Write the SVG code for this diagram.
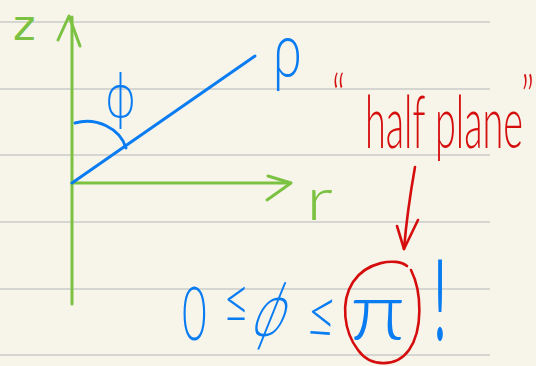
<svg xmlns="http://www.w3.org/2000/svg" width="536" height="366" viewBox="0 0 536 366">
<style>
.rule{stroke:#d5d5d1;stroke-width:2}
.g{stroke:#7cc242;stroke-width:3;fill:none;stroke-linecap:round;stroke-linejoin:round}
.b{stroke:#0a7cf2;stroke-width:3;fill:none;stroke-linecap:round;stroke-linejoin:round}
.r{stroke:#d50d0d;stroke-width:2.6;fill:none;stroke-linecap:round;stroke-linejoin:round}
text{font-family:Lato,"DejaVu Sans","Liberation Sans",sans-serif;font-weight:300}
.tg{fill:#7cc242}
.tb{fill:#0a7cf2}
.tr{fill:#d50d0d}
</style>
<rect width="536" height="366" fill="#f7f5ea"/>
<g id="rules">
<line class="rule" x1="0" y1="22" x2="490" y2="22"/>
<line class="rule" x1="0" y1="89" x2="490" y2="89"/>
<line class="rule" x1="0" y1="155" x2="490" y2="155"/>
<line class="rule" x1="0" y1="222" x2="490" y2="222"/>
<line class="rule" x1="0" y1="289" x2="490" y2="289"/>
<line class="rule" x1="0" y1="355" x2="490" y2="355"/>
</g>
<g id="axes">
<path class="g" d="M72,17 L72,304"/>
<path class="g" d="M58,40 L69,16 L80,46"/>
<path class="g" d="M72,183 L290,183"/>
<path class="g" d="M268,176 L291,183 L267,200"/>
<text class="tg" style="font-family:'DejaVu Sans',sans-serif;font-weight:400" x="13" y="40" font-size="43">z</text>
<text class="tg" transform="translate(306,220) scale(1.1,1)" font-size="60" textLength="24.5" lengthAdjust="spacingAndGlyphs">r</text>
</g>
<g id="rho-line">
<path class="b" d="M72,183 L255,56"/>
<text class="tb" transform="translate(273,77) scale(0.64,1)" font-size="76" textLength="45" lengthAdjust="spacingAndGlyphs">ρ</text>
</g>
<g id="angle">
<path class="b" d="M75,123 C96,117 120,128 126,148"/>
<text class="tb" transform="translate(106,118) scale(0.58,1)" font-size="66" textLength="50" lengthAdjust="spacingAndGlyphs">ϕ</text>
</g>
<g id="half-plane">
<text class="tr" transform="translate(332,118) scale(0.55,1)" font-size="62" textLength="24" lengthAdjust="spacingAndGlyphs">“</text>
<text class="tr" transform="translate(365,148) scale(0.5,1)" font-size="72" textLength="316" lengthAdjust="spacingAndGlyphs">half plane</text>
<text class="tr" transform="translate(521,120) scale(0.55,1)" font-size="62" textLength="24" lengthAdjust="spacingAndGlyphs">”</text>
<path class="r" d="M415,167 C410,195 406,225 404,249"/>
<path class="r" d="M397,226 L404,249 L418,220"/>
</g>
<g id="inequality">
<text class="tb" transform="translate(182,340) scale(0.55,1)" font-size="75" textLength="45" lengthAdjust="spacingAndGlyphs">0</text>
<text class="tb" transform="translate(223,323) scale(0.55,1)" font-size="66" textLength="48" lengthAdjust="spacingAndGlyphs">≤</text>
<text class="tb" transform="translate(248,336) skewX(-22) scale(0.56,1)" font-size="76" textLength="56" lengthAdjust="spacingAndGlyphs">ϕ</text>
<text class="tb" transform="translate(305,336) rotate(4) scale(0.5,1)" font-size="70" textLength="60" lengthAdjust="spacingAndGlyphs">≤</text>
<text class="tb" transform="translate(350,340) scale(1.15,1)" font-size="80" textLength="48" lengthAdjust="spacingAndGlyphs">π</text>
<text class="tb" style="font-weight:400" transform="translate(434,340) scale(0.4,1)" font-size="112">!</text>
<path class="r" d="M407,266 C396,257 366,262 353,282 C340,302 344,332 358,350 C370,367 396,368 409,350 C423,330 422,292 411,270"/>
</g>
</svg>
